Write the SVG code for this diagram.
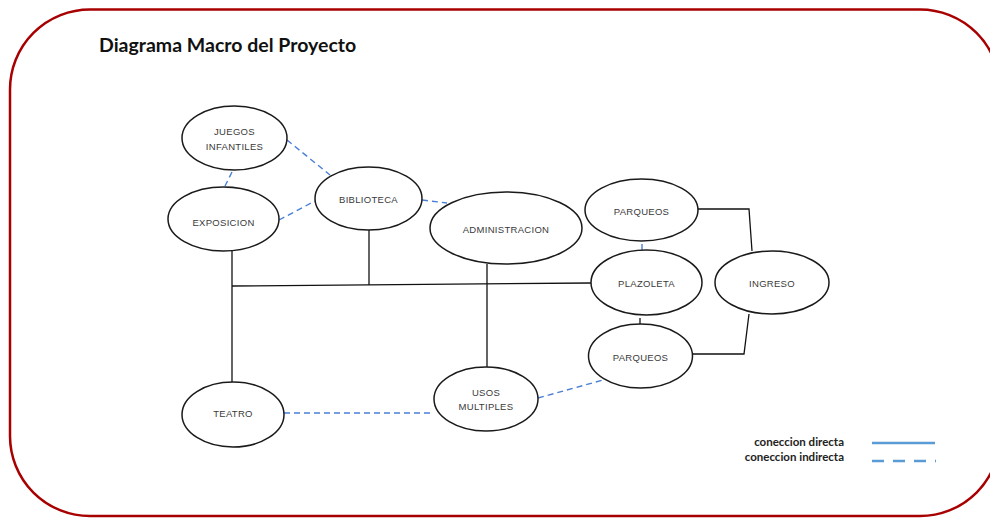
<svg xmlns="http://www.w3.org/2000/svg" width="990" height="518" viewBox="0 0 990 518">
<style>
.node ellipse{fill:#fff;stroke:#1a1a1a;stroke-width:1.5}
.node text{font-family:"Liberation Sans",Arial,sans-serif;font-size:9.5px;fill:#3a3a3a;text-anchor:middle;dominant-baseline:central;letter-spacing:0.3px}
.direct{fill:none;stroke:#111;stroke-width:1.3}
.indirect{fill:none;stroke:#4a7fd6;stroke-width:1.4;stroke-dasharray:6 4}
.legend{font-family:Lato,"Liberation Sans",sans-serif;font-size:11.5px;font-weight:bold;fill:#222;text-anchor:end}
</style>
<rect x="0" y="0" width="990" height="518" fill="#fff"/>
<rect x="10" y="9.5" width="990" height="506.5" rx="80" ry="80" fill="#fff" stroke="#a80000" stroke-width="2.5"/>
<text x="99" y="52" font-family="Lato,'Liberation Sans',sans-serif" font-size="19.5" font-weight="bold" fill="#111">Diagrama Macro del Proyecto</text>

<g id="connectors">
<path class="direct" d="M232 251 V382"/>
<path class="direct" d="M232 286 L591 283"/>
<path class="direct" d="M369 230 V285"/>
<path class="direct" d="M487 264 V367"/>
<path class="direct" d="M696 209 H749 L752 251"/>
<path class="direct" d="M749 314 L744 354 H692"/>
<path class="direct" d="M640 318 V324"/>
<path d="M642 244 V250" fill="none" stroke="#4a7fd6" stroke-width="1.4"/>
<path class="indirect" d="M287 140 L330 175"/>
<path class="indirect" d="M232 172 L225 186"/>
<path class="indirect" d="M279 220 L315 201"/>
<path class="indirect" d="M422 200 L447 203"/>
<path class="indirect" d="M284 413 H434"/>
<path class="indirect" d="M538 398 L603 380"/>
</g>

<g id="juegos" class="node"><ellipse cx="234.5" cy="138" rx="52.5" ry="32"/><text x="234.5" y="131">JUEGOS</text><text x="234.5" y="146">INFANTILES</text></g>
<g id="exposicion" class="node"><ellipse cx="223.5" cy="219" rx="55.5" ry="32"/><text x="223.5" y="222">EXPOSICION</text></g>
<g id="biblioteca" class="node"><ellipse cx="368.5" cy="198.5" rx="53.5" ry="31.5"/><text x="368.5" y="199">BIBLIOTECA</text></g>
<g id="administracion" class="node"><ellipse cx="506" cy="228" rx="76" ry="36"/><text x="506" y="229">ADMINISTRACION</text></g>
<g id="parqueos1" class="node"><ellipse cx="641.5" cy="210" rx="56.5" ry="31"/><text x="641.5" y="211">PARQUEOS</text></g>
<g id="plazoleta" class="node"><ellipse cx="646.5" cy="282.5" rx="55.5" ry="32.5"/><text x="646.5" y="283">PLAZOLETA</text></g>
<g id="ingreso" class="node"><ellipse cx="772" cy="282.5" rx="57" ry="31.5"/><text x="772" y="283">INGRESO</text></g>
<g id="parqueos2" class="node"><ellipse cx="640.5" cy="356" rx="52" ry="32"/><text x="640.5" y="357">PARQUEOS</text></g>
<g id="teatro" class="node"><ellipse cx="233" cy="414.5" rx="51" ry="32.5"/><text x="233" y="413">TEATRO</text></g>
<g id="usos" class="node"><ellipse cx="486" cy="399" rx="52" ry="32"/><text x="486" y="392">USOS</text><text x="486" y="406">MULTIPLES</text></g>

<g id="legend">
<text class="legend" x="844" y="446">coneccion directa</text>
<text class="legend" x="844" y="461">coneccion indirecta</text>
<line x1="872" y1="443" x2="935" y2="443" stroke="#5b9bd5" stroke-width="2.5"/>
<line x1="872" y1="461" x2="936" y2="461" stroke="#5b9bd5" stroke-width="2.5" stroke-dasharray="12 9"/>
</g>
</svg>
